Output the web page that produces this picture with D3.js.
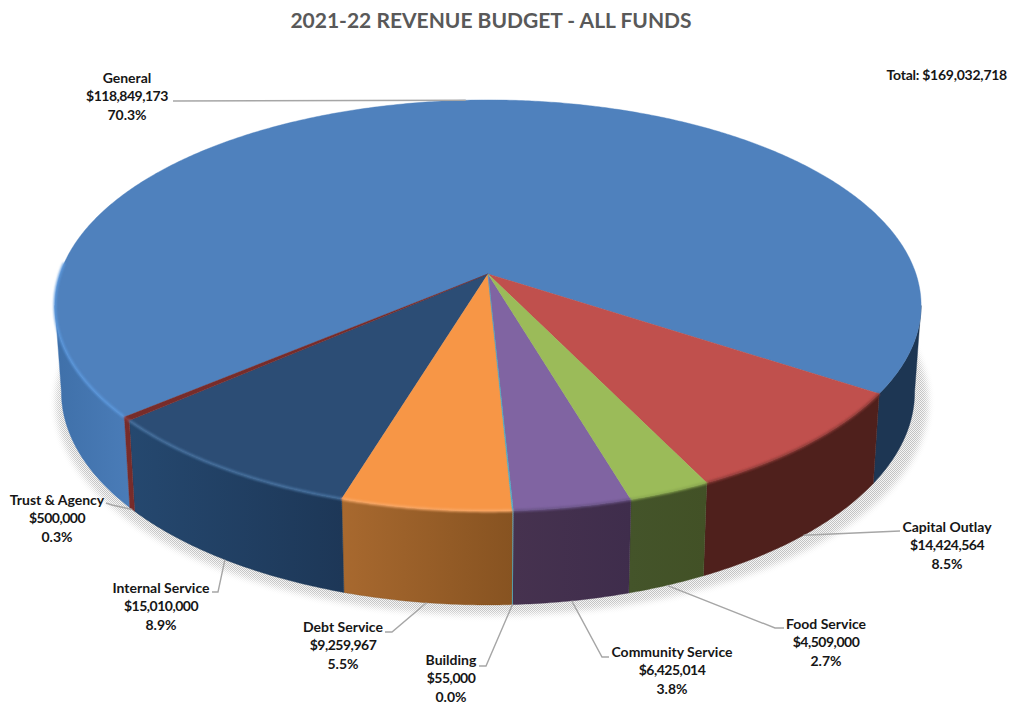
<!DOCTYPE html>
<html>
<head>
<meta charset="utf-8">
<title>2021-22 Revenue Budget - All Funds</title>
<script src="https://cdn.jsdelivr.net/npm/d3@7/dist/d3.min.js"></script>
<style>
  html, body { margin: 0; padding: 0; background: #fff; }
  svg { display: block; }
  text { font-family: Lato, "Open Sans", sans-serif; font-weight: 700; }
</style>
</head>
<body>
<svg id="chart" width="1012" height="705"></svg>
<script>
// Budget figures, in the order the slices run clockwise.
const funds = ["General", "Capital Outlay", "Food Service", "Community Service", "Building", "Debt Service", "Internal Service", "Trust & Agency"];
const amounts = [118849173, 14424564, 4509000, 6425014, 55000, 9259967, 15010000, 500000];
const shares = ["70.3%", "8.5%", "2.7%", "3.8%", "0.0%", "5.5%", "8.9%", "0.3%"];
const totalLabel = "Total: $169,032,718";
const chartTitle = "2021-22 REVENUE BUDGET - ALL FUNDS";

// Colours per fund: top face, wall (left and right shade), rim highlight.
const faceColors = ["#4f81bd", "#c0504d", "#9bbb59", "#8064a2", "#4bacc6", "#f79646", "#2c4d75", "#772c2a"];
const wallLeft = ["#3f70a9", "#4f201c", "#44542a", "#46324f", "#4bacc6", "#a8692f", "#25486f", "#772c2a"];
const wallRight = ["#4a7cb8", "#4f201c", "#425126", "#3f2d4c", "#4bacc6", "#875321", "#1d3757", "#772c2a"];
const rimColors = ["#5c99de", "#8e3b37", "#8aa84f", "#6b5488", "#4bacc6", "#f9a968", "#4a74a3", "#8e3b37"];
const wallRightOfGeneral = "#1d3653";

// Label placement: centre x, first baseline, and leader elbow points.
const labelLayout = [
  { x: 127, y: 83, elbow: [[173, 101]] },
  { x: 947, y: 532, elbow: [[900, 531]] },
  { x: 826, y: 629, elbow: [[775, 628], [784, 628]] },
  { x: 672, y: 657, elbow: [[602, 657], [609, 657]] },
  { x: 451, y: 665, elbow: [[486, 666], [479, 666]] },
  { x: 343, y: 632, elbow: [[392, 632], [385, 632]] },
  { x: 161, y: 593, elbow: [[218, 592], [212, 592]] },
  { x: 57, y: 505, elbow: [[112, 505], [106, 503]] }
];

const svg = d3.select("#chart");
const defs = svg.append("defs");
const deg = Math.PI / 180;

// Perspective view of the disc: x and y scales map projected disc units to pixels.
const tilt = 0.153;
const xScale = d3.scaleLinear().domain([-1, 1]).range([60, 916]);
const yScale = d3.scaleLinear().domain([-1, 1]).range([73.3, 474.7]);
const project = a => {
  const u = Math.sin(a), w = -Math.cos(a), s = 1 / (1 - tilt * w);
  return [xScale(u * s), yScale(w * s)];
};
const apex = [xScale(0), yScale(0)];

// The lower edge of the wall sits a little inward and further down at the front.
const lowerPoint = a => {
  const [x, y] = project(a);
  return [xScale(0) + (x - xScale(0)) * 0.985, y + 90 + (y - 400) * 0.036];
};

const sampleArc = (a0, a1, fn) => {
  const n = Math.max(2, Math.ceil(Math.abs(a1 - a0) / (0.5 * deg)));
  return d3.range(n + 1).map(i => fn(a0 + (a1 - a0) * i / n));
};
const line = d3.line();

const pie = d3.pie().sort(null).startAngle(230 * deg).endAngle(590 * deg);
const slices = pie(amounts).map((d, i) => ({ ...d, i }));

// Halftone ground shadow: a stipple pattern showing through a blurred mask.
const tile = defs.append("pattern").attr("id", "stipple").attr("width", 2).attr("height", 2).attr("patternUnits", "userSpaceOnUse");
tile.append("rect").attr("width", 2).attr("height", 2).attr("fill", "#f4f4f4");
tile.append("rect").attr("width", 1).attr("height", 1).attr("fill", "#c2c2c2");
tile.append("rect").attr("x", 1).attr("y", 1).attr("width", 1).attr("height", 1).attr("fill", "#c2c2c2");
defs.append("filter").attr("id", "shadowBlur").attr("x", "-10%").attr("y", "-10%").attr("width", "120%").attr("height", "120%")
  .append("feGaussianBlur").attr("stdDeviation", 3);
defs.append("filter").attr("id", "rimBlur").attr("x", "-5%").attr("y", "-5%").attr("width", "110%").attr("height", "110%")
  .append("feGaussianBlur").attr("stdDeviation", 0.8);

const shadowOutline = sampleArc(0, 2 * Math.PI, a => {
  const [x, y] = lowerPoint(a);
  return [xScale(0) + 4 + (x - xScale(0)) * 1.022, y + 10];
});
defs.append("mask").attr("id", "shadowMask").attr("maskUnits", "userSpaceOnUse")
  .attr("x", 0).attr("y", 0).attr("width", 1012).attr("height", 705)
  .append("path").attr("d", line(shadowOutline) + "Z").attr("fill", "#fff").attr("filter", "url(#shadowBlur)");
svg.append("rect").attr("width", 1012).attr("height", 705).attr("fill", "url(#stipple)").attr("mask", "url(#shadowMask)");

// Walls are only drawn on the side of the disc facing the viewer.
const frontStart = 98.8 * deg, frontEnd = 261.2 * deg;
const wallPieces = [];
slices.forEach(d => {
  [0, 2 * Math.PI].forEach(turn => {
    const a0 = Math.max(d.startAngle - turn, frontStart);
    const a1 = Math.min(d.endAngle - turn, frontEnd);
    if (a1 > a0) wallPieces.push({ i: d.i, a0, a1, rightOfGeneral: d.i === 0 && a0 < 180 * deg });
  });
});

const walls = svg.append("g");
wallPieces.forEach((p, k) => {
  const top = sampleArc(p.a0, p.a1, project);
  const low = sampleArc(p.a0, p.a1, lowerPoint).reverse();
  const grad = defs.append("linearGradient").attr("id", "wall" + k);
  grad.append("stop").attr("offset", 0).attr("stop-color", p.rightOfGeneral ? wallRightOfGeneral : wallLeft[p.i]);
  grad.append("stop").attr("offset", 1).attr("stop-color", p.rightOfGeneral ? wallRightOfGeneral : wallRight[p.i]);
  const narrow = p.a1 - p.a0 < 0.5 * deg;
  walls.append("path")
    .attr("d", line(top.concat(low)) + "Z")
    .attr("fill", `url(#wall${k})`)
    .attr("stroke", narrow ? "none" : (p.rightOfGeneral ? wallRightOfGeneral : wallRight[p.i]))
    .attr("stroke-width", 0.4);
});

// Top faces, widest first so the narrowest slices stay visible.
const faces = svg.append("g");
slices.slice().sort((a, b) => (b.endAngle - b.startAngle) - (a.endAngle - a.startAngle)).forEach(d => {
  const pts = [apex].concat(sampleArc(d.startAngle, d.endAngle, project));
  faces.append("path")
    .attr("d", line(pts) + "Z")
    .attr("fill", faceColors[d.i])
    .attr("stroke", faceColors[d.i])
    .attr("stroke-width", 0.4);
});

// Bevel along the front edge of the top face; the far-right stretch of General has none.
const rims = svg.append("g").attr("filter", "url(#rimBlur)");
wallPieces.filter(p => !p.rightOfGeneral).forEach(p => {
  const a1 = p.i === 0 ? p.a1 + 12 * deg : p.a1;
  rims.append("path")
    .attr("d", line(sampleArc(p.a0, a1, project)))
    .attr("fill", "none")
    .attr("stroke", rimColors[p.i])
    .attr("stroke-width", 2.4);
});

// Leader lines start at each slice's mid-angle on the rim; General's is on the far edge.
const leaders = svg.append("g");
slices.forEach(d => {
  const mid = (d.startAngle + d.endAngle) / 2;
  const anchor = d.i === 0 ? project(mid) : lowerPoint(mid);
  leaders.append("path")
    .attr("d", line([anchor].concat(labelLayout[d.i].elbow)))
    .attr("fill", "none")
    .attr("stroke", "#a6a6a6")
    .attr("stroke-width", 1.4);
});

// Three-line data labels; the dollar line is tightened so the digits sit closer.
const money = d3.format("$,.0f");
const labels = svg.append("g").attr("font-size", 14).attr("fill", "#161616").attr("text-anchor", "middle");
funds.forEach((name, i) => {
  const { x, y } = labelLayout[i];
  const t = labels.append("text").attr("x", x).attr("y", y);
  [name, money(amounts[i]), shares[i]].forEach((row, k) => {
    t.append("tspan").attr("x", x).attr("y", y + k * 18.4)
      .attr("letter-spacing", k === 1 ? -0.5 : 0)
      .text(row);
  });
});

svg.append("text").attr("x", 1007).attr("y", 80).attr("text-anchor", "end")
  .attr("font-size", 14).attr("letter-spacing", -0.25).attr("fill", "#161616").text(totalLabel);

svg.append("text").attr("x", 491).attr("y", 28).attr("text-anchor", "middle")
  .attr("font-size", 21).attr("fill", "#595959").text(chartTitle);
</script>
</body>
</html>
